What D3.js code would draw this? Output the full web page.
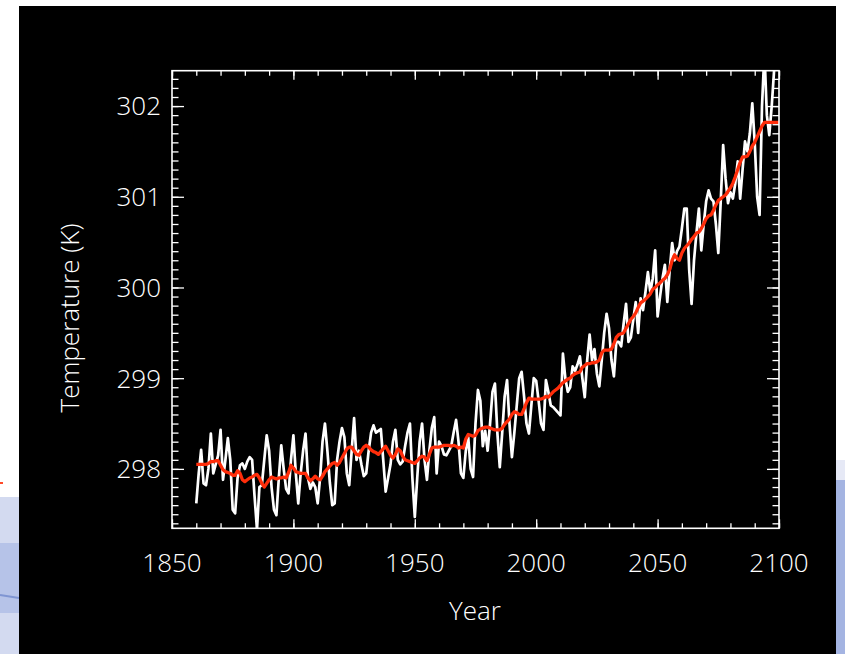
<!DOCTYPE html>
<html>
<head>
<meta charset="utf-8">
<script src="https://cdn.jsdelivr.net/npm/d3@7"></script>
<style>
  html, body { margin: 0; padding: 0; background: #ffffff; }
  svg { display: block; }
  .lbl { font-family: "Open Sans", "DejaVu Sans", sans-serif; font-weight: 300; fill: #ffffff; }
</style>
</head>
<body>
<svg id="chart" width="845" height="654"></svg>
<script>
// Annual mean surface temperature (K), one value per year starting in startYear
const startYear = 1860;
const annualTemp = [
  297.62, 297.95, 298.21, 297.84, 297.82, 298.00, 298.39, 297.95, 298.05, 298.15,
  298.43, 297.88, 298.10, 298.34, 298.10, 297.55, 297.51, 297.90, 298.04, 298.06,
  298.00, 298.08, 298.13, 298.10, 297.70, 297.33, 297.80, 297.82, 298.10, 298.37,
  298.20, 297.80, 297.55, 297.49, 297.90, 298.26, 298.00, 297.78, 297.73, 298.10,
  298.37, 297.95, 297.62, 297.95, 298.20, 298.39, 297.90, 297.78, 297.85, 297.80,
  297.62, 297.90, 298.30, 298.50, 298.20, 297.85, 297.60, 297.62, 298.10, 298.30,
  298.45, 298.35, 297.95, 297.82, 298.20, 298.56, 298.10, 298.20, 298.05, 297.92,
  297.95, 298.20, 298.40, 298.48, 298.40, 298.42, 298.44, 298.10, 297.75, 297.90,
  298.05, 298.30, 298.43, 298.10, 298.05, 298.08, 298.25, 298.40, 298.50, 297.90,
  297.47, 297.90, 298.30, 298.50, 298.10, 297.88, 298.20, 298.45, 298.57, 297.95,
  298.30, 298.25, 298.16, 298.15, 298.20, 298.25, 298.40, 298.54, 298.30, 297.95,
  297.90, 298.20, 298.35, 298.00, 297.91, 298.50, 298.87, 298.75, 298.25, 298.42,
  298.20, 298.50, 298.85, 298.94, 298.40, 298.02, 298.40, 298.80, 298.98, 298.50,
  298.13, 298.40, 298.70, 299.00, 299.07, 298.80, 298.50, 298.39, 298.70, 299.00,
  298.97, 298.75, 298.50, 298.43, 298.98, 298.85, 298.70, 298.68, 298.65, 298.62,
  298.59, 299.27, 299.00, 298.85, 298.90, 299.13, 299.08, 299.15, 299.24, 299.00,
  298.79, 299.20, 299.48, 299.20, 299.32, 299.05, 298.91, 299.20, 299.50, 299.71,
  299.55, 299.20, 299.02, 299.40, 299.40, 299.35, 299.60, 299.82, 299.40, 299.45,
  299.65, 299.84, 299.50, 299.88, 299.75, 299.95, 300.17, 299.95, 300.10, 300.41,
  299.68, 299.90, 300.10, 300.25, 299.84, 300.20, 300.49, 300.30, 300.40, 300.45,
  300.65, 300.87, 300.87, 300.20, 299.82, 300.30, 300.60, 300.87, 300.41, 300.70,
  300.95, 301.07, 300.98, 300.95, 300.70, 300.38, 300.95, 301.57, 301.20, 300.93,
  301.05, 300.98, 301.15, 301.39, 300.98, 301.30, 301.61, 301.50, 301.70, 302.03,
  301.60, 301.00, 300.80, 302.00, 302.60, 301.90, 301.68, 302.00, 302.40, 302.60,
  302.60
];

// Smoothed (running mean) temperature (K), same years
const smoothedTemp = [
  298.05, 298.05, 298.05, 298.05, 298.05, 298.06, 298.08, 298.08, 298.09, 298.09,
  298.04, 297.99, 297.97, 297.96, 297.95, 297.93, 297.93, 297.98, 297.95, 297.88,
  297.86, 297.88, 297.90, 297.91, 297.93, 297.94, 297.90, 297.84, 297.80, 297.84,
  297.88, 297.91, 297.90, 297.89, 297.90, 297.90, 297.91, 297.90, 297.96, 298.04,
  298.01, 297.97, 297.96, 297.95, 297.95, 297.95, 297.90, 297.87, 297.89, 297.92,
  297.89, 297.88, 297.92, 297.97, 298.00, 298.03, 298.06, 298.07, 298.04, 298.07,
  298.12, 298.17, 298.22, 298.24, 298.24, 298.20, 298.16, 298.15, 298.20, 298.24,
  298.26, 298.24, 298.21, 298.19, 298.18, 298.16, 298.19, 298.22, 298.25, 298.20,
  298.15, 298.12, 298.16, 298.22, 298.20, 298.14, 298.10, 298.09, 298.08, 298.07,
  298.06, 298.09, 298.12, 298.14, 298.13, 298.09, 298.16, 298.23, 298.24, 298.24,
  298.24, 298.25, 298.26, 298.26, 298.26, 298.25, 298.26, 298.25, 298.23, 298.24,
  298.23, 298.33, 298.38, 298.37, 298.36, 298.37, 298.42, 298.44, 298.45, 298.46,
  298.46, 298.45, 298.44, 298.43, 298.43, 298.43, 298.45, 298.49, 298.52, 298.55,
  298.60, 298.63, 298.62, 298.60, 298.60, 298.66, 298.73, 298.78, 298.77, 298.77,
  298.77, 298.77, 298.77, 298.78, 298.80, 298.79, 298.82, 298.85, 298.87, 298.89,
  298.92, 298.95, 298.97, 298.99, 299.00, 299.03, 299.05, 299.06, 299.07, 299.12,
  299.14, 299.16, 299.16, 299.17, 299.17, 299.18, 299.20, 299.28, 299.31, 299.31,
  299.31, 299.32, 299.38, 299.45, 299.48, 299.49, 299.50, 299.55, 299.60, 299.65,
  299.68, 299.72, 299.78, 299.83, 299.85, 299.87, 299.90, 299.93, 299.98, 300.00,
  300.03, 300.05, 300.08, 300.10, 300.14, 300.20, 300.30, 300.36, 300.32, 300.30,
  300.38, 300.43, 300.46, 300.49, 300.53, 300.56, 300.60, 300.61, 300.65, 300.70,
  300.76, 300.79, 300.80, 300.85, 300.91, 300.96, 300.98, 301.00, 301.02, 301.06,
  301.10, 301.15, 301.22, 301.30, 301.38, 301.44, 301.44, 301.45, 301.50, 301.56,
  301.60, 301.66, 301.72, 301.78, 301.82, 301.82, 301.82, 301.82, 301.82, 301.82,
  301.82
];

const xTickValues = [1850, 1900, 1950, 2000, 2050, 2100];
const yTickValues = [298, 299, 300, 301, 302];
const xDomain = [1850, 2100];
const yDomain = [297.345, 302.39];

const svg = d3.select("#chart");

// page backdrop around the black panel
svg.append("rect").attr("x", 0).attr("y", 0).attr("width", 845).attr("height", 654).attr("fill", "#ffffff");
const bgLeft = svg.append("g");
bgLeft.append("rect").attr("x", 0).attr("y", 497).attr("width", 19).attr("height", 157).attr("fill", "#d3daf0");
bgLeft.append("rect").attr("x", 0).attr("y", 543).attr("width", 19).attr("height", 70).attr("fill", "#b6c3e8");
bgLeft.append("line").attr("x1", 0).attr("x2", 19).attr("y1", 595).attr("y2", 598)
  .attr("stroke", "#7f95d2").attr("stroke-width", 2);
bgLeft.append("line").attr("x1", 0).attr("x2", 3).attr("y1", 483).attr("y2", 483)
  .attr("stroke", "#ff4a2a").attr("stroke-width", 2);
const bgRight = svg.append("g");
bgRight.append("rect").attr("x", 836).attr("y", 460).attr("width", 9).attr("height", 20).attr("fill", "#e6e9f6");
bgRight.append("rect").attr("x", 836).attr("y", 480).attr("width", 9).attr("height", 174).attr("fill", "#a4b4e2");

// black panel
svg.append("rect").attr("x", 19).attr("y", 6).attr("width", 817).attr("height", 648).attr("fill", "#000000");

const plotL = 172, plotR = 779, plotT = 70.7, plotB = 528.3;
const x = d3.scaleLinear().domain(xDomain).range([plotL, plotR]);
const y = d3.scaleLinear().domain(yDomain).range([plotB, plotT]);

const years = annualTemp.map((_, i) => startYear + i);

svg.append("clipPath").attr("id", "plotClip")
  .append("rect").attr("x", plotL).attr("y", plotT).attr("width", plotR - plotL).attr("height", plotB - plotT);

const plot = svg.append("g").attr("clip-path", "url(#plotClip)");
const line = d3.line().x((d, i) => x(years[i])).y(d => y(d));

plot.append("path").datum(annualTemp).attr("d", line)
  .attr("fill", "none").attr("stroke", "#ffffff").attr("stroke-width", 2.7).attr("stroke-linejoin", "round");
plot.append("path").datum(smoothedTemp).attr("d", line)
  .attr("fill", "none").attr("stroke", "#ff2d0a").attr("stroke-width", 3.3).attr("stroke-linejoin", "round");

// axes: ticks point inward on all four sides
const xMinor = d3.range(1850, 2101, 10);
const yMinor = d3.range(2974, 3024, 1).map(v => v / 10).filter(v => v >= yDomain[0] && v <= yDomain[1]);

function styleAxis(g) {
  g.select(".domain").remove();
  g.selectAll(".tick line").attr("stroke", "#ffffff").attr("stroke-width", 1.3);
  g.selectAll(".tick text").remove();
}

svg.append("g").attr("transform", `translate(0,${plotB})`)
  .call(d3.axisTop(x).tickValues(xMinor).tickSize(5)).call(styleAxis);
svg.append("g").attr("transform", `translate(0,${plotB})`)
  .call(d3.axisTop(x).tickValues(xTickValues).tickSize(9)).call(styleAxis);
svg.append("g").attr("transform", `translate(0,${plotT})`)
  .call(d3.axisBottom(x).tickValues(xMinor).tickSize(5)).call(styleAxis);
svg.append("g").attr("transform", `translate(0,${plotT})`)
  .call(d3.axisBottom(x).tickValues(xTickValues).tickSize(9)).call(styleAxis);

svg.append("g").attr("transform", `translate(${plotL},0)`)
  .call(d3.axisRight(y).tickValues(yMinor).tickSize(6.5)).call(styleAxis);
svg.append("g").attr("transform", `translate(${plotL},0)`)
  .call(d3.axisRight(y).tickValues(yTickValues).tickSize(12)).call(styleAxis);
svg.append("g").attr("transform", `translate(${plotR},0)`)
  .call(d3.axisLeft(y).tickValues(yMinor).tickSize(6.5)).call(styleAxis);
svg.append("g").attr("transform", `translate(${plotR},0)`)
  .call(d3.axisLeft(y).tickValues(yTickValues).tickSize(12)).call(styleAxis);

svg.append("rect").attr("x", plotL).attr("y", plotT).attr("width", plotR - plotL).attr("height", plotB - plotT)
  .attr("fill", "none").attr("stroke", "#ffffff").attr("stroke-width", 1.6);

// tick labels
svg.append("g").selectAll("text").data(xTickValues).join("text")
  .attr("class", "lbl").attr("x", d => x(d)).attr("y", 572)
  .attr("text-anchor", "middle").attr("font-size", 26).text(d => d);
svg.append("g").selectAll("text").data(yTickValues).join("text")
  .attr("class", "lbl").attr("x", 161).attr("y", d => y(d)).attr("dy", "0.36em")
  .attr("text-anchor", "end").attr("font-size", 26).text(d => d);

// axis titles
svg.append("text").attr("class", "lbl").attr("x", 475).attr("y", 620)
  .attr("text-anchor", "middle").attr("font-size", 26).text("Year");
svg.append("text").attr("class", "lbl")
  .attr("transform", "translate(79,318) rotate(-90)")
  .attr("text-anchor", "middle").attr("font-size", 26).text("Temperature (K)");
</script>
</body>
</html>
